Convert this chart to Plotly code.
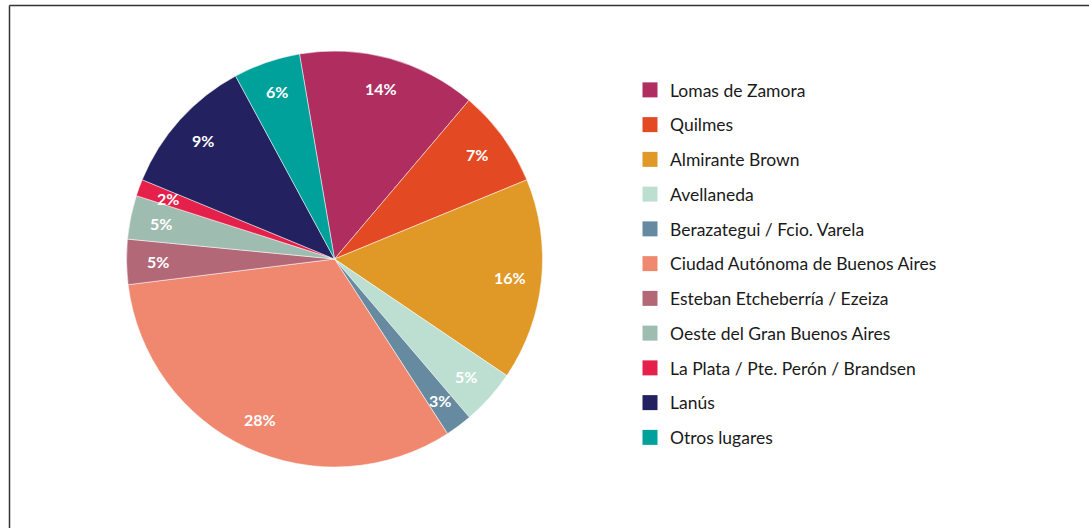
import math
import plotly.graph_objects as go

# ---- data ----
categories = [
    "Lomas de Zamora", "Quilmes", "Almirante Brown", "Avellaneda",
    "Berazategui / Fcio. Varela", "Ciudad Autónoma de Buenos Aires",
    "Esteban Etcheberría / Ezeiza", "Oeste del Gran Buenos Aires",
    "La Plata / Pte. Perón / Brandsen", "Lanús", "Otros lugares",
]
# slice sizes as drawn (share of the circle, %)
slice_share = [13.9, 7.6, 15.7, 4.3, 2.1, 32.2, 3.5, 3.4, 1.3, 10.9, 5.2]
# percentages printed on the slices
printed_pct = ["14%", "7%", "16%", "5%", "3%", "28%", "5%", "5%", "2%", "9%", "6%"]
colors = ["#B02D60", "#E34A23", "#E09827", "#BDDFD2", "#668BA0", "#F08870",
          "#B36878", "#9FBCB0", "#E5214B", "#232160", "#00A19B"]

# ---- layout constants ----
W, H = 1089, 528
CX, CY, R = 334.5, 259.0, 208.0          # pie centre / radius in px
ROT = -9.7                               # start angle of first slice (deg)
LABEL_R = 0.85                           # label radius as fraction of R

fig = go.Figure()
fig.add_trace(go.Pie(
    labels=categories, values=slice_share,
    marker=dict(colors=colors, line=dict(color="white", width=0.5)),
    sort=False, direction="clockwise", rotation=ROT,
    textinfo="none", hoverinfo="label+text", text=printed_pct,
    showlegend=False,
    domain=dict(x=[(CX - R) / W, (CX + R) / W],
                y=[1 - (CY + R) / H, 1 - (CY - R) / H]),
))

# legend entries (one per category, same colours)
for i, (name, col) in enumerate(zip(categories, colors)):
    fig.add_trace(go.Scatter(
        x=[None], y=[None], mode="markers", name=name,
        marker=dict(symbol="square", size=15, color=col),
        legendgroup=f"g{i}", showlegend=True, hoverinfo="skip",
    ))

# slice labels at mid-angle of each slice
total = sum(slice_share)
cum = 0.0
annotations = []
for v, t in zip(slice_share, printed_pct):
    mid = ROT + (cum + v / 2) / total * 360.0
    cum += v
    a = math.radians(mid)
    px = CX + LABEL_R * R * math.sin(a)
    py = CY - LABEL_R * R * math.cos(a)
    annotations.append(dict(
        x=px / W, y=1 - py / H, xref="paper", yref="paper",
        text=t, showarrow=False,
        font=dict(family="Lato", size=16, color="white", weight="bold"),
        xanchor="center", yanchor="middle",
    ))

fig.update_layout(
    width=W, height=H,
    margin=dict(l=0, r=0, t=0, b=0),
    paper_bgcolor="white", plot_bgcolor="white",
    xaxis=dict(visible=False), yaxis=dict(visible=False),
    showlegend=True,
    legend=dict(
        x=630 / W, y=1 - 72 / H, xanchor="left", yanchor="top",
        font=dict(family="Lato", size=17.5, color="#1a1a1a"),
        tracegroupgap=9, bgcolor="rgba(0,0,0,0)",
    ),
    annotations=annotations,
    shapes=[
        dict(type="line", xref="paper", yref="paper",
             x0=9.5 / W, x1=1.0, y0=1 - 5.5 / H, y1=1 - 5.5 / H,
             line=dict(color="#333333", width=1.5)),
        dict(type="line", xref="paper", yref="paper",
             x0=9.5 / W, x1=9.5 / W, y0=0, y1=1 - 5.5 / H,
             line=dict(color="#333333", width=1.5)),
    ],
)

fig.write_html("out.html",
               config={"displayModeBar": False},
               post_script="document.body.style.margin='0px';"
                           "document.body.style.overflow='hidden';")
